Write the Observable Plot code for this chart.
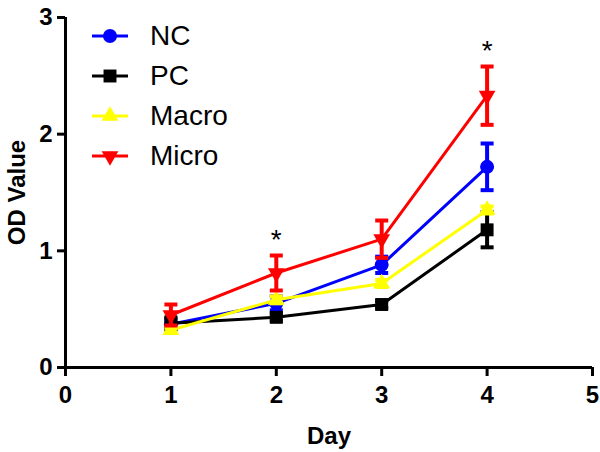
<!DOCTYPE html>
<html>
<head>
<meta charset="utf-8">
<script src="https://cdn.jsdelivr.net/npm/d3@7"></script>
<script src="https://cdn.jsdelivr.net/npm/@observablehq/plot@0.6"></script>
<style>
  html, body { margin: 0; padding: 0; background: #fff; }
  #wrap { position: relative; width: 600px; height: 452px; font-family: "Liberation Sans", Arial, sans-serif; }
  #legend { position: absolute; left: 90px; top: 16px; }
  .lrow { display: flex; align-items: center; height: 40px; }
  .lrow span { font-size: 28px; margin-left: 20px; color: #000; }
</style>
</head>
<body>
<div id="wrap"><div id="legend"></div></div>
<script>
// ---- data ----
const days = [1, 2, 3, 4];
const seriesNames = ["NC", "PC", "Macro", "Micro"];
const seriesColors = ["#0000ff", "#000000", "#ffff00", "#ff0000"];
const ncMean = [0.37, 0.55, 0.88, 1.72];
const ncErr = [0.04, 0.06, 0.07, 0.20];
const pcMean = [0.38, 0.43, 0.54, 1.18];
const pcErr = [0.05, 0.03, 0.03, 0.15];
const macroMean = [0.32, 0.58, 0.72, 1.35];
const macroErr = [0.02, 0.03, 0.03, 0.03];
const microMean = [0.45, 0.81, 1.10, 2.33];
const microErr = [0.09, 0.15, 0.16, 0.25];
const starDays = [2, 4];
const xTicks = [0, 1, 2, 3, 4, 5];
const yTicks = [0, 1, 2, 3];

// ---- symbols ----
const triDown = {
  draw(ctx, size) {
    const y = -Math.sqrt(size / (Math.sqrt(3) * 3));
    ctx.moveTo(0, -y * 2);
    ctx.lineTo(-Math.sqrt(3) * y, y);
    ctx.lineTo(Math.sqrt(3) * y, y);
    ctx.closePath();
  }
};
const hline = {
  draw(ctx, size) {
    const w = Math.sqrt(size / Math.PI);
    ctx.moveTo(-w, 0);
    ctx.lineTo(w, 0);
  }
};
const symbols = [d3.symbolCircle, d3.symbolSquare, d3.symbolTriangle, triDown];
const sizes = [7, 7.3, 6.2, 6.2];

const means = [ncMean, pcMean, macroMean, microMean];
const errs = [ncErr, pcErr, macroErr, microErr];
const rows = [];
seriesNames.forEach((name, s) => {
  days.forEach((d, i) => {
    rows.push({ series: name, s, day: d, mean: means[s][i], lo: means[s][i] - errs[s][i], hi: means[s][i] + errs[s][i] });
  });
});
const stars = starDays.map(d => ({ day: d, hi: microMean[days.indexOf(d)] + microErr[days.indexOf(d)] }));

const font = "Liberation Sans, Arial, sans-serif";
const marks = [];
seriesNames.forEach((name, s) => {
  const data = rows.filter(r => r.s === s);
  const c = seriesColors[s];
  marks.push(Plot.line(data, { x: "day", y: "mean", stroke: c, strokeWidth: 3 }));
  marks.push(Plot.ruleX(data, { x: "day", y1: "lo", y2: "hi", stroke: c, strokeWidth: 4 }));
  marks.push(Plot.dot(data, { x: "day", y: "lo", symbol: hline, r: 6.5, stroke: c, strokeWidth: 4 }));
  marks.push(Plot.dot(data, { x: "day", y: "hi", symbol: hline, r: 6.5, stroke: c, strokeWidth: 4 }));
  marks.push(Plot.dot(data, { x: "day", y: "mean", symbol: symbols[s], r: sizes[s], fill: c, stroke: "none" }));
});

const chart = Plot.plot({
  width: 600,
  height: 452,
  marginLeft: 65,
  marginRight: 8,
  marginTop: 17,
  marginBottom: 85,
  style: { fontFamily: font, background: "#fff" },
  x: { domain: [0, 5] },
  y: { domain: [0, 3] },
  marks: [
    Plot.axisX(xTicks, { tickSize: 9, tickPadding: 9, strokeWidth: 3, fontSize: 24, fontWeight: "bold", fill: "#000", label: null, tickFormat: d3.format("d") }),
    Plot.axisY(yTicks, { tickSize: 8, tickPadding: 5, strokeWidth: 3, fontSize: 24, fontWeight: "bold", fill: "#000", label: null, tickFormat: d3.format("d") }),
    Plot.ruleY([0], { stroke: "#000", strokeWidth: 3 }),
    Plot.ruleX([0], { stroke: "#000", strokeWidth: 3 }),
    ...marks,
    Plot.text(stars, { x: "day", y: "hi", text: () => "*", dy: -15, fontSize: 28, fill: "#000" }),
    Plot.text(["Day"], { frameAnchor: "bottom", dy: 76, fontSize: 24, fontWeight: "bold", fill: "#000" }),
    Plot.text(["OD Value"], { frameAnchor: "left", textAnchor: "middle", dx: -48, rotate: -90, fontSize: 24, fontWeight: "bold", fill: "#000" })
  ]
});
document.getElementById("wrap").appendChild(chart);

// ---- legend ----
const legend = document.getElementById("legend");
seriesNames.forEach((name, s) => {
  const row = document.createElement("div");
  row.className = "lrow";
  const svg = d3.create("svg").attr("width", 40).attr("height", 20);
  svg.append("line").attr("x1", 2).attr("x2", 38).attr("y1", 10).attr("y2", 10).attr("stroke", seriesColors[s]).attr("stroke-width", 3);
  svg.append("path").attr("transform", "translate(20,10)").attr("d", d3.symbol(symbols[s], Math.PI * sizes[s] * sizes[s])()).attr("fill", seriesColors[s]);
  row.appendChild(svg.node());
  const t = document.createElement("span");
  t.textContent = name;
  row.appendChild(t);
  legend.appendChild(row);
});
</script>
</body>
</html>
